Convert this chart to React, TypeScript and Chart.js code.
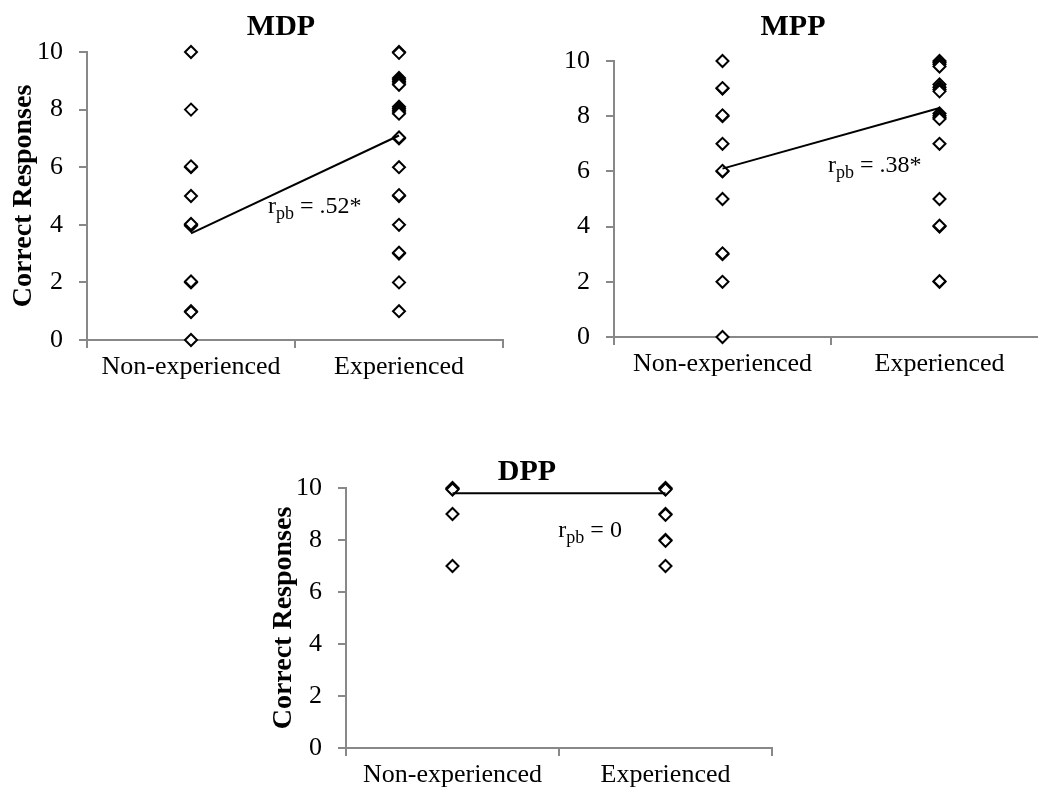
import React, { useEffect, useRef } from "react";
import { Chart, registerables } from "chart.js";

Chart.register(...registerables);

// ---------- data ----------
const categories = ["Non-experienced", "Experienced"];
const yTickMin = 0;
const yTickMax = 10;
const yTickStep = 2;

const mdpNonExperienced = [10, 8, 6, 6.03, 5, 4, 3.97, 4.03, 2, 2.03, 1, 0.97, 0];
const mdpExperienced = [10, 9.97, 9.1, 9.04, 8.98, 8.92, 8.86, 8.1, 8.04, 7.98, 7.92, 7.86, 7, 7.03, 6, 5, 5.03, 4, 3, 3.03, 2, 1];
const mdpMeans = [3.7, 7.1];
const mdpNote = ".52*";

const mppNonExperienced = [10, 9, 9.02, 8, 8.03, 7, 6, 6.02, 5, 3, 3.03, 2, 0];
const mppExperienced = [10, 9.95, 9.88, 9.8, 9.15, 9.05, 8.97, 8.9, 8.1, 8.02, 7.95, 7.9, 7, 5, 4, 4.03, 2, 2.02];
const mppMeans = [6.1, 8.3];
const mppNote = ".38*";

const dppNonExperienced = [10, 9.97, 9.94, 9, 7];
const dppExperienced = [10, 9.97, 9.94, 9, 8.97, 8, 7.97, 7];
const dppMeans = [9.8, 9.8];
const dppNote = "0";

// ---------- styling ----------
const SERIF = '"Liberation Serif", "Times New Roman", serif';
const AXIS_GRAY = "#888888";

const panelText = {
  id: "panelText",
  afterDraw(chart: any, _args: any, opts: any) {
    const { ctx } = chart;
    const x = chart.scales.x;
    const y = chart.scales.y;
    ctx.save();
    ctx.fillStyle = "#000";
    // title
    ctx.font = `bold 30px ${SERIF}`;
    ctx.textAlign = "center";
    ctx.textBaseline = "alphabetic";
    ctx.fillText(opts.title, opts.titleX, opts.titleY);
    // r_pb annotation
    const px = x.getPixelForValue(opts.noteX);
    const py = y.getPixelForValue(opts.noteY);
    ctx.textAlign = "left";
    ctx.font = `24px ${SERIF}`;
    ctx.fillText("r", px, py);
    let w = ctx.measureText("r").width;
    ctx.font = `18px ${SERIF}`;
    ctx.fillText("pb", px + w, py + 6);
    w += ctx.measureText("pb").width;
    ctx.font = `24px ${SERIF}`;
    ctx.fillText(" = " + opts.note, px + w, py);
    ctx.restore();
  },
};

type PanelSpec = {
  non: number[];
  exp: number[];
  means: number[];
  note: string;
  title: string;
  titleX: number;
  titleY: number;
  noteX: number;
  noteY: number;
  yTitle: boolean;
  yWidth: number;
  xHeight: number;
  padTop: number;
  padRight: number;
};

function buildConfig(s: PanelSpec): any {
  const pointStyle = {
    showLine: false,
    pointStyle: "rectRot",
    pointRadius: 6,
    pointBorderWidth: 2,
    pointBorderColor: "#000",
    pointBackgroundColor: "#fff",
    clip: false,
  };
  return {
    type: "line",
    data: {
      labels: categories,
      datasets: [
        {
          data: categories.map((c, i) => ({ x: c, y: s.means[i] })),
          borderColor: "#000",
          borderWidth: 2,
          pointRadius: 0,
          clip: false,
        },
        {
          ...pointStyle,
          data: s.non.map((v) => ({ x: categories[0], y: v })),
        },
        {
          ...pointStyle,
          data: s.exp.map((v) => ({ x: categories[1], y: v })),
        },
      ],
    },
    options: {
      responsive: false,
      animation: false,
      events: [],
      layout: { padding: { left: 0, top: s.padTop, right: s.padRight, bottom: 0 } },
      plugins: {
        legend: { display: false },
        tooltip: { enabled: false },
        title: { display: false },
        panelText: {
          title: s.title,
          titleX: s.titleX,
          titleY: s.titleY,
          note: s.note,
          noteX: s.noteX,
          noteY: s.noteY,
        },
      },
      scales: {
        x: {
          type: "category",
          offset: true,
          grid: {
            display: true,
            offset: true,
            drawOnChartArea: false,
            drawTicks: true,
            tickLength: 8,
            color: AXIS_GRAY,
            lineWidth: 2,
          },
          border: { display: true, color: AXIS_GRAY, width: 2 },
          ticks: { color: "#000", font: { family: SERIF, size: 26 }, padding: 4, maxRotation: 0, autoSkip: false },
          afterFit: (scale: any) => {
            scale.height = s.xHeight;
          },
        },
        y: {
          type: "linear",
          min: yTickMin,
          max: yTickMax,
          ticks: { stepSize: yTickStep, color: "#000", font: { family: SERIF, size: 26 }, padding: 16 },
          grid: {
            display: true,
            drawOnChartArea: false,
            drawTicks: true,
            tickLength: 8,
            color: AXIS_GRAY,
            lineWidth: 2,
          },
          border: { display: true, color: AXIS_GRAY, width: 2 },
          title: {
            display: s.yTitle,
            text: "Correct Responses",
            color: "#000",
            font: { family: SERIF, size: 28, weight: "bold" },
            padding: { top: 7, bottom: 0 },
          },
          afterFit: (scale: any) => {
            scale.width = s.yWidth;
          },
        },
      },
    },
    plugins: [panelText],
  };
}

function Panel(props: { spec: PanelSpec; left: number; top: number; width: number; height: number }) {
  const ref = useRef<HTMLCanvasElement | null>(null);
  useEffect(() => {
    if (!ref.current) return;
    const chart = new Chart(ref.current, buildConfig(props.spec));
    return () => chart.destroy();
  }, []);
  return (
    <canvas
      ref={ref}
      width={props.width}
      height={props.height}
      style={{ position: "absolute", left: props.left, top: props.top, width: props.width, height: props.height }}
    />
  );
}

const mdpSpec: PanelSpec = {
  non: mdpNonExperienced,
  exp: mdpExperienced,
  means: mdpMeans,
  note: mdpNote,
  title: "MDP",
  titleX: 281,
  titleY: 35,
  noteX: 0.37,
  noteY: 4.41,
  yTitle: true,
  yWidth: 87,
  xHeight: 60,
  padTop: 52,
  padRight: 17,
};

const mppSpec: PanelSpec = {
  non: mppNonExperienced,
  exp: mppExperienced,
  means: mppMeans,
  note: mppNote,
  title: "MPP",
  titleX: 273,
  titleY: 35,
  noteX: 0.486,
  noteY: 5.97,
  yTitle: false,
  yWidth: 94,
  xHeight: 63,
  padTop: 61,
  padRight: 12,
};

const dppSpec: PanelSpec = {
  non: dppNonExperienced,
  exp: dppExperienced,
  means: dppMeans,
  note: dppNote,
  title: "DPP",
  titleX: 267,
  titleY: 40,
  noteX: 0.497,
  noteY: 8.11,
  yTitle: true,
  yWidth: 86,
  xHeight: 41,
  padTop: 48,
  padRight: 18,
};

export default function App() {
  return (
    <div
      style={{
        position: "fixed",
        left: 0,
        top: 0,
        width: 1038,
        height: 789,
        overflow: "hidden",
        background: "#fff",
      }}
    >
      <Panel spec={mdpSpec} left={0} top={0} width={520} height={400} />
      <Panel spec={mppSpec} left={520} top={0} width={540} height={400} />
      <Panel spec={dppSpec} left={260} top={440} width={530} height={349} />
    </div>
  );
}
